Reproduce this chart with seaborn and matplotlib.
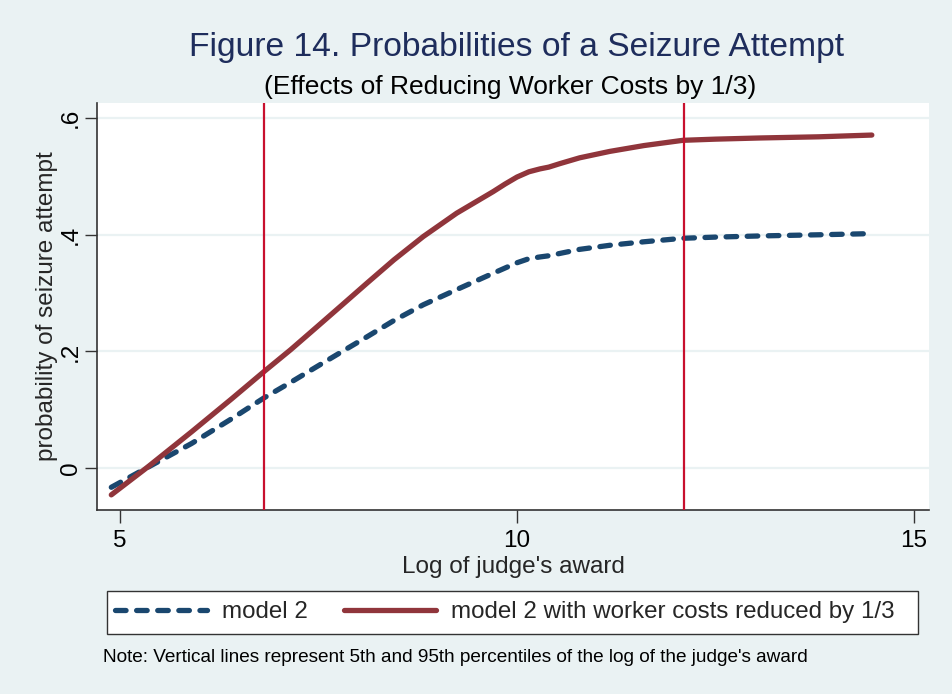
"""
plot.py - Figure 14, probabilities of a seizure attempt (Stata s2color look).
"""
import matplotlib
matplotlib.use("Agg")
import matplotlib.pyplot as plt  # noqa: E402
import matplotlib.patches as mpatches  # noqa: E402
import seaborn as sns  # noqa: E402
import pandas as pd  # noqa: E402


# ---------------------------------------------------------------------------
# Dados
# ---------------------------------------------------------------------------
log_award = [4.89, 5.36, 5.90, 6.40, 6.81, 7.15, 7.48, 7.80, 8.11, 8.45,
             8.82, 9.24, 9.70, 9.85, 10.00, 10.15, 10.29, 10.40, 10.54, 10.79,
             11.17, 11.60, 12.09, 12.50, 13.06, 13.80, 14.47]
model2 = [-0.033, 0.002, 0.042, 0.084, 0.120, 0.147, 0.174, 0.200, 0.225, 0.253,
          0.280, 0.306, 0.334, 0.343, 0.352, 0.359, 0.362, 0.364, 0.368, 0.375,
          0.382, 0.388, 0.394, 0.396, 0.398, 0.400, 0.402]
model2_reduced = [-0.046, 0.003, 0.062, 0.118, 0.165, 0.203, 0.242, 0.280, 0.317, 0.357,
                  0.397, 0.437, 0.474, 0.487, 0.499, 0.508, 0.513, 0.516, 0.522, 0.532,
                  0.543, 0.553, 0.562, 0.564, 0.566, 0.568, 0.571]
percentiles = [6.81, 12.10]

series_names = ["model 2", "model 2 with worker costs reduced by 1/3"]
x_ticks = [5, 10, 15]
y_ticks = [0, 0.2, 0.4, 0.6]
y_tick_labels = ["0", ".2", ".4", ".6"]

# Cores estilo Stata s2color
BG = "#EAF2F3"
NAVY = "#1A476F"
MAROON = "#90353B"
VLINE = "#C8102E"
TITLE = "#1E2D5C"

sns.set_theme(style="white")
plt.rcParams["font.family"] = ["Liberation Sans", "DejaVu Sans"]

df = pd.DataFrame({
    "x": log_award * 2,
    "y": model2 + model2_reduced,
    "serie": [series_names[0]] * len(log_award) + [series_names[1]] * len(log_award),
})

fig = plt.figure(figsize=(9.53, 6.94), dpi=100, facecolor=BG)
ax = fig.add_axes([0.1018, 0.2651, 0.8730, 0.5865])
ax.set_facecolor("white")

# Grade horizontal
for yv in y_ticks:
    ax.axhline(yv, color=BG, linewidth=1.6, zorder=0)

sns.lineplot(
    data=df, x="x", y="y", hue="serie", style="serie",
    palette=[NAVY, MAROON],
    dashes=[(2, 2), ""],
    linewidth=3.8, ax=ax, legend=False, zorder=3,
)
for line in ax.lines[-2:]:
    line.set_solid_capstyle("round")
    line.set_solid_joinstyle("round")
    line.set_dash_capstyle("round")

# Linhas verticais dos percentis (por cima das curvas)
for xv in percentiles:
    ax.axvline(xv, color=VLINE, linewidth=1.6, zorder=4)

ax.set_xlim(4.71, 15.19)
ax.set_ylim(-0.072, 0.626)
ax.set_xticks(x_ticks)
ax.set_yticks(y_ticks)
ax.set_yticklabels(y_tick_labels, rotation=90, va="center")
ax.tick_params(axis="both", which="both", direction="out", length=9,
               width=1, color="#333333", labelsize=17.5, labelcolor="black",
               bottom=True, left=True)
ax.tick_params(axis="x", pad=5.5)
ax.tick_params(axis="y", pad=2)

for side in ["top", "right"]:
    ax.spines[side].set_visible(False)
for side in ["left", "bottom"]:
    ax.spines[side].set_color("#333333")
    ax.spines[side].set_linewidth(1.2)

ax.set_xlabel("Log of judge's award", fontsize=17.5, labelpad=2.5)
ax.set_ylabel("probability of seizure attempt", fontsize=17.5, labelpad=1)

# Titulos
fig.text(0.542, 0.931, "Figure 14. Probabilities of a Seizure Attempt",
         ha="center", va="center", fontsize=24.2, color=TITLE)
fig.text(0.535, 0.874, "(Effects of Reducing Worker Costs by 1/3)",
         ha="center", va="center", fontsize=19, color="black")

# Legenda com moldura desenhada a parte
fig.patches.append(mpatches.Rectangle(
    (0.1123, 0.0865), 0.851, 0.062, transform=fig.transFigure,
    facecolor="white", edgecolor="#333333", linewidth=1.0, zorder=0,
))
handles = [
    plt.Line2D([], [], color=NAVY, linewidth=3.8, dashes=(2, 2),
               dash_capstyle="round"),
    plt.Line2D([], [], color=MAROON, linewidth=3.8, solid_capstyle="round"),
]
leg = fig.legend(
    handles, series_names,
    loc="center left", bbox_to_anchor=(0.1207, 0.1182),
    ncol=2, fontsize=17.4, handlelength=3.8, handletextpad=0.62,
    columnspacing=1.5, borderaxespad=0, borderpad=0, frameon=False,
)

# Nota
fig.text(0.108, 0.052,
         "Note: Vertical lines represent 5th and 95th percentiles of the log of the judge's award",
         ha="left", va="center", fontsize=13.7, color="black")

fig.savefig("out.png", dpi=100, facecolor=BG)
